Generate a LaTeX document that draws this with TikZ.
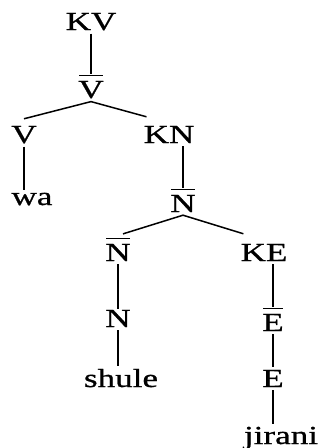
\documentclass[tikz,border=0pt]{standalone}
\usepackage{fontspec}
\setmainfont{Liberation Serif}[FakeStretch=1.35,FakeBold=0.8]
\usepackage{tikz}
\newcommand{\barcat}[1]{\vbox{\hrule height 1.4pt\kern 4.5pt\hbox{\kern-1pt#1\kern-1pt}}}
\tikzset{
  treenode/.style={anchor=base,inner sep=3pt,font=\fontsize{26}{30}\selectfont},
  treeedge/.style={line width=1.5pt,black}
}
\begin{document}
\begin{tikzpicture}[x=1pt,y=-1pt]
  \useasboundingbox (0,0) rectangle (323,448);
  \node[treenode] (KV) at (91,30) {KV};
  \node[treenode] (Vb) at (91,98) {\barcat{V}};
  \node[treenode] (V) at (24,143) {V};
  \node[treenode] (wa) at (32,205) {wa};
  \node[treenode] (KN) at (169,143) {KN};
  \node[treenode] (Nb1) at (183,212) {\barcat{N}};
  \node[treenode] (Nb2) at (118,261) {\barcat{N}};
  \node[treenode] (N) at (118,327) {N};
  \node[treenode] (shule) at (121,387) {shule};
  \node[treenode] (KE) at (264,261) {KE};
  \node[treenode] (Eb) at (273,331) {\barcat{E}};
  \node[treenode] (E) at (273,387) {E};
  \node[treenode] (jirani) at (281,444) {jirani};

  \draw[treeedge] (KV.south) -- ([yshift=-2pt]Vb.north);
  \draw[treeedge] (Vb.south) -- ([yshift=4pt]V.north);
  \draw[treeedge] (Vb.south) -- ([xshift=6pt,yshift=6pt]KN.north west);
  \draw[treeedge] (V.south) -- (V.south |- wa.north);
  \draw[treeedge] (KN.south -| Nb1.north) -- ([yshift=-2pt]Nb1.north);
  \draw[treeedge] (Nb1.south) -- ([xshift=5pt,yshift=1pt]Nb2.north);
  \draw[treeedge] (Nb1.south) -- ([xshift=6pt,yshift=7pt]KE.north west);
  \draw[treeedge] (Nb2.south) -- ([yshift=-2pt]N.north);
  \draw[treeedge] (N.south) -- (N.south |- shule.north);
  \draw[treeedge] (KE.south -| Eb.north) -- ([yshift=-2pt]Eb.north);
  \draw[treeedge] (Eb.south) -- (E.north);
  \draw[treeedge] (E.south) -- (E.south |- jirani.north);
\end{tikzpicture}
\end{document}
